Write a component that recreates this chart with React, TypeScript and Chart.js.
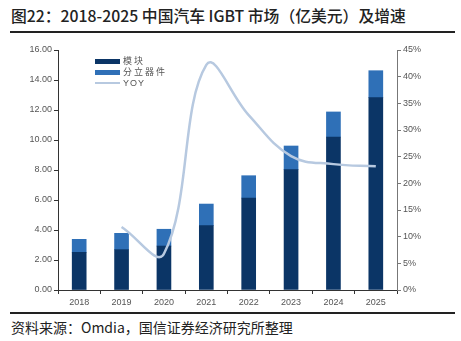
import React, { useEffect, useRef } from "react";
import { Chart, registerables } from "chart.js";

Chart.register(...registerables);

const categories = ["2018", "2019", "2020", "2021", "2022", "2023", "2024", "2025"];
const moduleValues = [2.51, 2.69, 2.93, 4.29, 6.13, 8.02, 10.2, 12.82];
const discreteValues = [0.87, 1.09, 1.12, 1.44, 1.49, 1.58, 1.67, 1.8];
const yoyValues = [null, 11.8, 6.8, 42.2, 32.8, 25.1, 23.6, 23.2];
const leftTicks = [0, 2, 4, 6, 8, 10, 12, 14, 16];
const rightTicks = [0, 5, 10, 15, 20, 25, 30, 35, 40, 45];

const DARK = "#0B3566";
const MID = "#2F70B7";
const LINE = "#B7C9E0";
const TICKFONT = { family: "'Liberation Sans', Arial, sans-serif", size: 9 };

export default function App() {
  const ref = useRef<HTMLCanvasElement | null>(null);

  useEffect(() => {
    if (!ref.current) return;
    const chart = new Chart(ref.current, {
      type: "bar",
      data: {
        labels: categories,
        datasets: [
          {
            type: "line",
            label: "YOY",
            data: yoyValues,
            yAxisID: "y1",
            borderColor: LINE,
            borderWidth: 2.5,
            pointRadius: 0,
            tension: 0.4,
            fill: false,
            order: 0,
          } as any,
          {
            label: "模块",
            data: moduleValues,
            backgroundColor: DARK,
            yAxisID: "y",
            barThickness: 14,
            order: 1,
          },
          {
            label: "分立器件",
            data: discreteValues,
            backgroundColor: MID,
            yAxisID: "y",
            barThickness: 14,
            order: 1,
          },
        ],
      },
      options: {
        animation: false,
        responsive: false,
        maintainAspectRatio: false,
        layout: { padding: { top: 10, left: 0, right: 0, bottom: 0 } },
        plugins: { legend: { display: false }, tooltip: { enabled: false } },
        scales: {
          x: {
            stacked: true,
            offset: true,
            grid: {
              display: true,
              offset: true,
              drawOnChartArea: false,
              drawTicks: true,
              tickLength: 4,
              color: "#333",
            },
            border: { display: true, color: "#333", width: 1 },
            ticks: { color: "#555", font: TICKFONT, padding: 3 },
            afterFit: (s: any) => {
              s.height = 20;
            },
          },
          y: {
            stacked: true,
            position: "left",
            min: 0,
            max: 16,
            afterBuildTicks: (s: any) => {
              s.ticks = leftTicks.map((v) => ({ value: v }));
            },
            grid: {
              display: true,
              drawOnChartArea: false,
              drawTicks: true,
              tickLength: 4,
              color: "#333",
            },
            border: { display: true, color: "#333", width: 1 },
            ticks: {
              color: "#555",
              font: TICKFONT,
              padding: 2,
              callback: (v: any) => Number(v).toFixed(2),
            },
            afterFit: (s: any) => {
              s.width = 58;
            },
          },
          y1: {
            position: "right",
            min: 0,
            max: 45,
            afterBuildTicks: (s: any) => {
              s.ticks = rightTicks.map((v) => ({ value: v }));
            },
            grid: {
              display: true,
              drawOnChartArea: false,
              drawTicks: true,
              tickLength: 4,
              color: "#777",
            },
            border: { display: true, color: "#777", width: 1 },
            ticks: {
              color: "#555",
              font: TICKFONT,
              padding: 2,
              callback: (v: any) => v + "%",
            },
            afterFit: (s: any) => {
              s.width = 64;
            },
          },
        },
      },
    });
    return () => chart.destroy();
  }, []);

  const cjk = "'Noto Sans CJK SC', 'Noto Sans', sans-serif";
  const legendText: React.CSSProperties = {
    position: "absolute",
    left: 123,
    fontSize: 9,
    color: "#555",
    fontFamily: cjk,
    lineHeight: "10px",
    letterSpacing: 2,
  };

  return (
    <div
      style={{
        position: "fixed",
        left: 0,
        top: 0,
        width: 461,
        height: 341,
        background: "#fff",
        overflow: "hidden",
      }}
    >
      <div
        style={{
          position: "absolute",
          left: 11,
          top: 5,
          fontFamily: cjk,
          fontSize: 15.8,
          fontWeight: 500,
          color: "#222",
          whiteSpace: "nowrap",
          lineHeight: "22px",
        }}
      >
        图22：2018-2025 中国汽车 IGBT 市场（亿美元）及增速
      </div>
      <div style={{ position: "absolute", left: 10, top: 31, width: 445, height: 1.5, background: "#222" }} />
      <canvas
        ref={ref}
        width={461}
        height={270}
        style={{ position: "absolute", left: 0, top: 40, width: 461, height: 270 }}
      />
      <div style={{ position: "absolute", left: 95, top: 59, width: 25, height: 5, background: DARK }} />
      <div style={{ ...legendText, top: 56 }}>模块</div>
      <div style={{ position: "absolute", left: 95, top: 70, width: 25, height: 5, background: MID }} />
      <div style={{ ...legendText, top: 67 }}>分立器件</div>
      <div style={{ position: "absolute", left: 95, top: 82, width: 25, height: 2, background: LINE }} />
      <div style={{ ...legendText, top: 78, fontFamily: "'Liberation Sans', Arial, sans-serif", letterSpacing: 1 }}>YOY</div>
      <div style={{ position: "absolute", left: 10, top: 312, width: 445, height: 1.5, background: "#222" }} />
      <div
        style={{
          position: "absolute",
          left: 11,
          top: 317,
          fontFamily: cjk,
          fontSize: 14,
          color: "#222",
          whiteSpace: "nowrap",
          lineHeight: "20px",
        }}
      >
        资料来源：Omdia，国信证券经济研究所整理
      </div>
    </div>
  );
}
